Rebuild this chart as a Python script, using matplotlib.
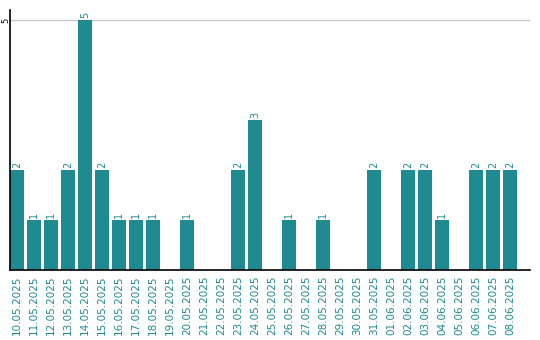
import matplotlib
matplotlib.use("Agg")
import matplotlib.pyplot as plt

dates = ["10.05.2025", "11.05.2025", "12.05.2025", "13.05.2025", "14.05.2025",
         "15.05.2025", "16.05.2025", "17.05.2025", "18.05.2025", "19.05.2025",
         "20.05.2025", "21.05.2025", "22.05.2025", "23.05.2025", "24.05.2025",
         "25.05.2025", "26.05.2025", "27.05.2025", "28.05.2025", "29.05.2025",
         "30.05.2025", "31.05.2025", "01.06.2025", "02.06.2025", "03.06.2025",
         "04.06.2025", "05.06.2025", "06.06.2025", "07.06.2025", "08.06.2025"]
counts = [2, 1, 1, 2, 5, 2, 1, 1, 1, 0,
          1, 0, 0, 2, 3, 0, 1, 0, 1, 0,
          0, 2, 0, 2, 2, 1, 0, 2, 2, 2]

teal = "#1f8a8f"

fig = plt.figure(figsize=(5.4, 3.4), dpi=100)
ax = fig.add_axes([10 / 540, 70 / 340, 520 / 540, 260 / 340])

x = list(range(len(dates)))
ax.bar(x, counts, width=0.82, color=teal, zorder=2)

for xi, v in zip(x, counts):
    if v > 0:
        ax.text(xi, v + 0.04, str(v), rotation=90, ha="center", va="bottom",
                color=teal, fontsize=7)

ax.set_xlim(-0.41, 30.18)
ax.set_ylim(0, 5.2)
ax.set_yticks([5])
ax.set_yticklabels(["5"], rotation=90, va="center", fontsize=6)
ax.yaxis.grid(True, color="#c8c8c8", linewidth=1, zorder=0)
ax.tick_params(axis="y", length=0, pad=0)

ax.set_xticks(x)
ax.set_xticklabels(dates, rotation=90, color=teal, fontsize=7.5)
ax.tick_params(axis="x", length=0, pad=4)

for s in ["top", "right"]:
    ax.spines[s].set_visible(False)
ax.spines["left"].set_linewidth(1.2)
ax.spines["bottom"].set_linewidth(1.2)

fig.savefig("out.png", dpi=100)
